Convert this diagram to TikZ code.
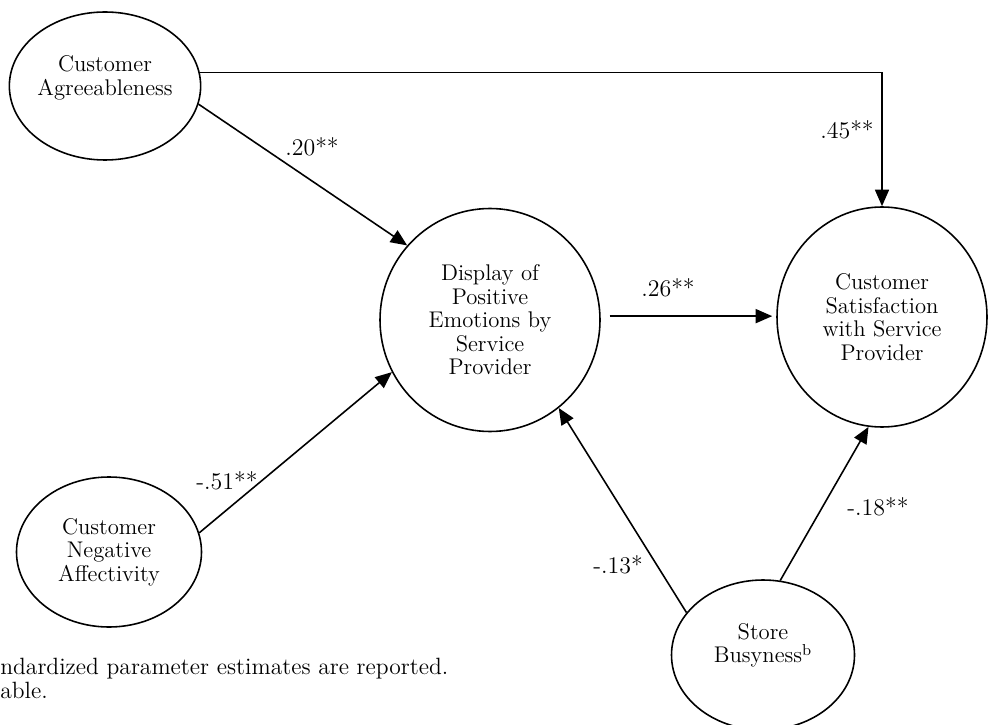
\documentclass[tikz,border=0pt]{standalone}
\usepackage{tikz}
\usetikzlibrary{arrows.meta, positioning, shapes.geometric}

\begin{document}
\begin{tikzpicture}[every node/.style={font=\fontsize{12.9}{13.4}\selectfont},
      lat/.style={draw, ellipse, line width=0.9pt, inner sep=0pt, align=center},
      arr/.style={-{Triangle[length=0.33cm, width=0.28cm]}, line width=0.9pt},
      coef/.style={inner sep=1pt, font=\fontsize{13.6}{14}\selectfont}]
    \useasboundingbox (0,0) rectangle (19.78,-14.5);
    % latent variables
    \node[lat, minimum width=3.68cm, minimum height=2.96cm, text depth=0.42cm] (agree) at (2.10,-1.72)
      {Customer\\Agreeableness};
    \node[lat, minimum width=3.70cm, minimum height=3.00cm] (negaff) at (2.18,-11.04)
      {Customer\\Negative\\Affectivity};
    \node[lat, minimum width=4.40cm, minimum height=4.46cm] (display) at (9.80,-6.40)
      {Display of\\Positive\\Emotions by\\Service\\Provider};
    \node[lat, minimum width=4.20cm, minimum height=4.40cm] (satis) at (17.64,-6.34)
      {Customer\\Satisfaction\\with Service\\Provider};
    \node[lat, minimum width=3.66cm, minimum height=3.00cm, text depth=0.48cm] (store) at (15.26,-13.10)
      {Store\\Busyness\textsuperscript{b}};
    % paths
    \draw[arr] (agree.8) -| (satis.north);
    \draw[arr] (agree.-11) -- (display.138);
    \draw[arr] (negaff.12) -- (display.208);
    \draw[arr, shorten <=0.18cm, shorten >=0.08cm] (display.2) -- (display.2 -| satis.west);
    \draw[arr] (store.151) -- (display.-52);
    \draw[arr] (store.77) -- (satis.-97);
    % estimates
    \node[coef] (c45) at (16.94,-2.60) {.45**};
    \node[coef] (c20) at (6.24,-2.94) {.20**};
    \node[coef] (c51) at (4.54,-9.62) {-.51**};
    \node[coef] (c26) at (13.36,-5.76) {.26**};
    \node[coef] (c13) at (12.36,-11.30) {-.13*};
    \node[coef] (c18) at (17.56,-10.14) {-.18**};
    % note
    \node[anchor=base west, inner sep=0pt, font=\fontsize{13.4}{14}\selectfont] (note1) at (0,-13.48)
      {ndardized parameter estimates are reported.};
    \node[anchor=base west, inner sep=0pt, font=\fontsize{13.4}{14}\selectfont] (note2) at (0,-13.96) {able.};
  \end{tikzpicture}
\end{document}
